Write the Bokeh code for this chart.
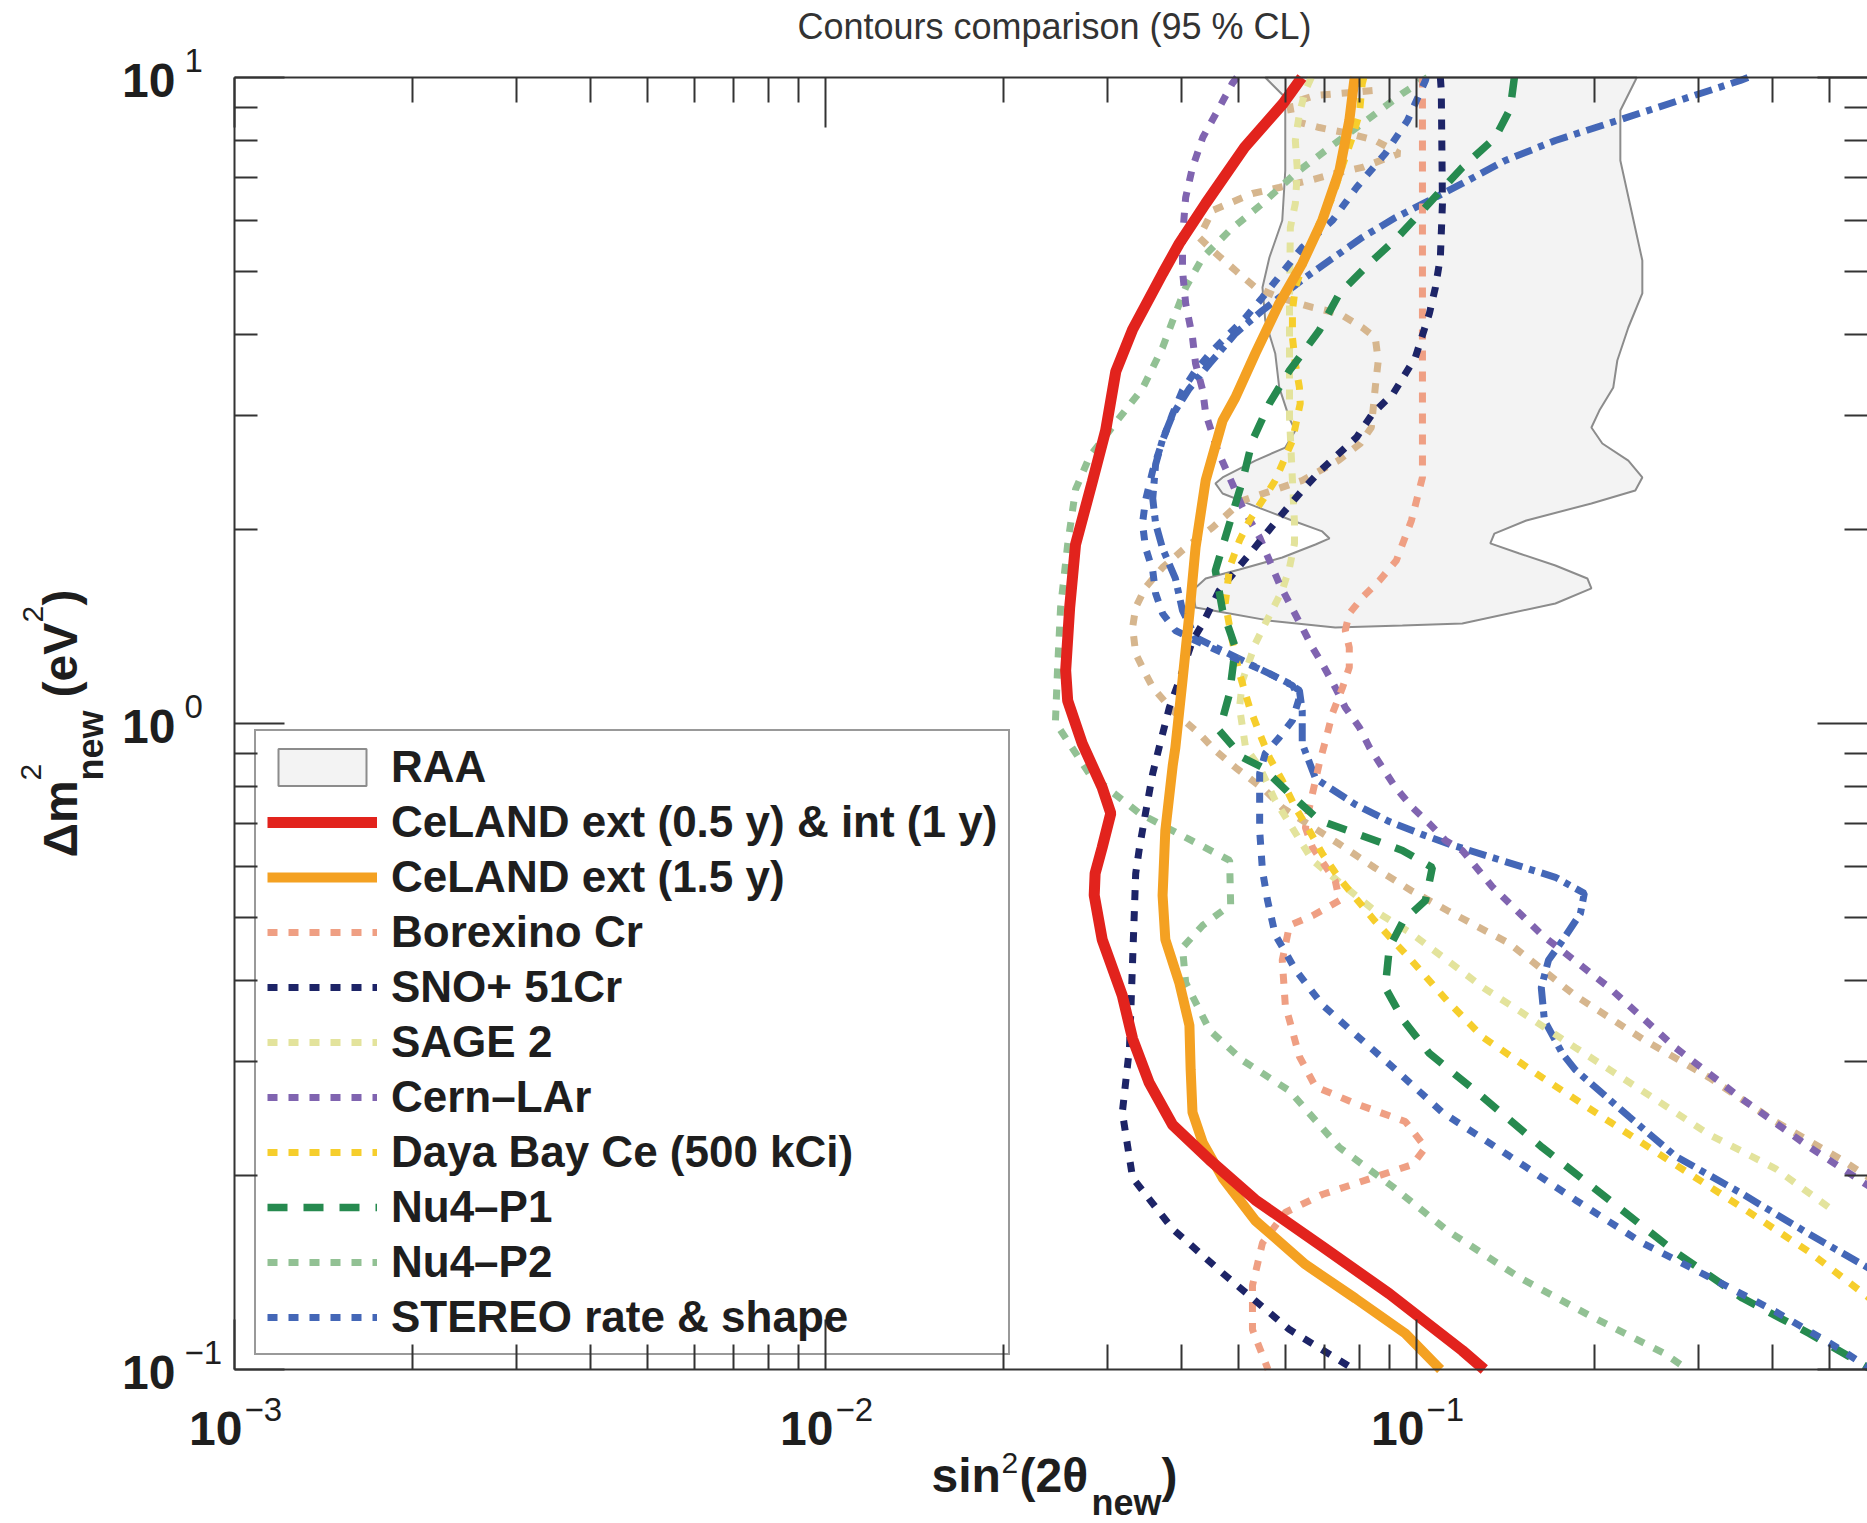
import math
from bokeh.plotting import figure
from bokeh.models import (LogAxis, FixedTicker, Label, Legend, LegendItem, Range1d,
                          CustomJSTickFormatter)
from bokeh.embed import file_html
from bokeh.resources import INLINE

# ---------------- data ----------------
title_text = "Contours comparison (95 % CL)"

x_major = [0.001, 0.01, 0.1]
x_exp = ["\u22123", "\u22122", "\u22121"]
x_minor = [0.002, 0.003, 0.004, 0.005, 0.006, 0.007, 0.008, 0.009,
           0.02, 0.03, 0.04, 0.05, 0.06, 0.07, 0.08, 0.09,
           0.2, 0.3, 0.4, 0.5]
y_major = [0.1, 1, 10]
y_exp = ["\u22121", "0", "1"]
y_minor = [0.2, 0.3, 0.4, 0.5, 0.6, 0.7, 0.8, 0.9, 2, 3, 4, 5, 6, 7, 8, 9]

raa_x = [0.0555, 0.0600, 0.0600, 0.0593, 0.0564, 0.0549, 0.0555, 0.0577, 0.0586, 0.0610, 0.0624,
         0.0600, 0.0534, 0.0470, 0.0457, 0.0470, 0.0534, 0.0610, 0.0693, 0.0713, 0.0675, 0.0593,
         0.0502, 0.0440, 0.0418, 0.0423, 0.0483, 0.0564, 0.0729, 0.0947, 0.1196, 0.1719, 0.1978,
         0.1947, 0.1719, 0.1494, 0.1334, 0.1355, 0.1535, 0.1978, 0.2347, 0.2412, 0.2284, 0.2064,
         0.1978, 0.2040, 0.2154, 0.2188, 0.2284, 0.2412, 0.2412, 0.2311, 0.2214, 0.2214, 0.2347, 0.2360]
raa_y = [10.0, 9.313, 7.179, 6.007, 5.265, 4.731, 4.206, 3.740, 3.313, 2.965, 2.842,
         2.674, 2.553, 2.404, 2.353, 2.270, 2.168, 2.069, 1.983, 1.934, 1.893, 1.807,
         1.731, 1.677, 1.607, 1.512, 1.480, 1.443, 1.408, 1.418, 1.428, 1.534, 1.619,
         1.677, 1.756, 1.833, 1.900, 1.968, 2.062, 2.191, 2.295, 2.404, 2.553, 2.713,
         2.872, 3.051, 3.313, 3.647, 4.102, 4.631, 5.209, 6.225, 7.440, 8.890, 9.894, 10.0]

celand_a_x = [0.0640, 0.0595, 0.0512, 0.0440, 0.0397, 0.0372, 0.0331, 0.0310, 0.0298, 0.0283,
              0.0265, 0.0259, 0.0255, 0.0257, 0.0272, 0.0294, 0.0304, 0.0294, 0.0286, 0.0285, 0.0294,
              0.0318, 0.0331, 0.0353, 0.0387, 0.0447, 0.0534, 0.0693, 0.0900, 0.1196, 0.1303]
celand_a_y = [10.0, 9.115, 7.794, 6.382, 5.534, 4.973, 4.073, 3.506, 2.842, 2.370,
              1.893, 1.512, 1.208, 1.085, 0.931, 0.796, 0.726, 0.643, 0.586, 0.542, 0.463,
              0.379, 0.325, 0.278, 0.239, 0.211, 0.183, 0.155, 0.131, 0.107, 0.100]

celand_b_x = [0.0787, 0.0785, 0.0770, 0.0741, 0.0693, 0.0641, 0.0586, 0.0534, 0.0494, 0.0470, 0.0440,
              0.0423, 0.0413, 0.0402, 0.0391, 0.0387, 0.0376, 0.0372, 0.0376, 0.0397, 0.0413, 0.0415,
              0.0418, 0.0435, 0.0470, 0.0534, 0.0649, 0.0789, 0.0958, 0.1094, 0.1099]
celand_b_y = [10.0, 9.894, 8.578, 7.179, 6.007, 5.154, 4.469, 3.740, 3.196, 2.944, 2.378,
              1.873, 1.480, 1.166, 0.918, 0.861, 0.683, 0.542, 0.463, 0.397, 0.341, 0.291,
              0.250, 0.2245, 0.198, 0.170, 0.1454, 0.1288, 0.1137, 0.1004, 0.100]

borexino_x = [0.1024, 0.1024, 0.1024, 0.0981, 0.0925, 0.0866, 0.0810, 0.0770, 0.0758, 0.0770, 0.0770,
              0.0750, 0.0721, 0.0702, 0.0685, 0.0659, 0.0649, 0.0667, 0.0729, 0.0741, 0.0667, 0.0610,
              0.0593, 0.0600, 0.0634, 0.0675, 0.0789, 0.0958, 0.1036, 0.0985, 0.0843, 0.0693, 0.0600,
              0.0549, 0.0528, 0.0528, 0.0561]
borexino_y = [10.0, 2.976, 2.404, 2.062, 1.788, 1.665, 1.567, 1.480, 1.393, 1.311, 1.221,
              1.137, 1.036, 0.941, 0.867, 0.741, 0.690, 0.643, 0.571, 0.532, 0.504, 0.487,
              0.430, 0.367, 0.305, 0.274, 0.258, 0.242, 0.2206, 0.2076, 0.198, 0.1866, 0.175,
              0.157, 0.1349, 0.1153, 0.100]

sno_x = [0.1098, 0.1102, 0.1107, 0.1098, 0.1077, 0.1052, 0.0996, 0.0914, 0.0843, 0.0792, 0.0688,
         0.0641, 0.0586, 0.0528, 0.0464, 0.0435, 0.0418, 0.0397, 0.0382, 0.0367, 0.0358, 0.0348,
         0.0340, 0.0335, 0.0331, 0.0327, 0.0318, 0.0331, 0.0387, 0.0470, 0.0610, 0.0779, 0.0784]
sno_y = [10.0, 9.546, 6.382, 5.265, 4.731, 4.312, 3.687, 3.243, 3.018, 2.772, 2.464,
         2.295, 2.084, 1.853, 1.607, 1.428, 1.344, 1.166, 1.059, 0.918, 0.837, 0.726,
         0.643, 0.586, 0.430, 0.315, 0.250, 0.198, 0.165, 0.141, 0.1153, 0.1004, 0.100]

sage_x = [0.0664, 0.0649, 0.0634, 0.0624, 0.0629, 0.0624, 0.0612, 0.0610, 0.0610, 0.0617, 0.0622,
          0.0622, 0.0610, 0.0593, 0.0555, 0.0534, 0.0508, 0.0502, 0.0514, 0.0543, 0.0577, 0.0667,
          0.0849, 0.0981, 0.1128, 0.1298, 0.1494, 0.1858, 0.2412, 0.3131, 0.4050, 0.4998]
sage_y = [10.0, 9.546, 8.796, 7.988, 7.179, 6.382, 5.859, 4.517, 2.976, 2.378, 2.040,
          1.900, 1.744, 1.607, 1.428, 1.330, 1.166, 1.059, 0.918, 0.855, 0.760, 0.614,
          0.5135, 0.473, 0.430, 0.390, 0.359, 0.315, 0.270, 0.231, 0.2047, 0.178]

cern_x = [0.0497, 0.0488, 0.0464, 0.0435, 0.0418, 0.0407, 0.0402, 0.0402, 0.0407, 0.0418, 0.0423,
          0.0435, 0.0440, 0.0461, 0.0488, 0.0508, 0.0543, 0.0564, 0.0586, 0.0610, 0.0641, 0.0667,
          0.0693, 0.0729, 0.0758, 0.0801, 0.0833, 0.0876, 0.0922, 0.0985, 0.1052, 0.1120, 0.1196,
          0.1344, 0.1634, 0.2121, 0.2743, 0.3562, 0.4624, 0.5843, 0.639]
cern_y = [10.0, 9.788, 8.986, 8.074, 7.257, 6.521, 5.654, 5.027, 4.469, 3.958, 3.608,
          3.278, 3.018, 2.646, 2.353, 2.160, 1.941, 1.788, 1.648, 1.534, 1.408, 1.311,
          1.238, 1.137, 1.059, 0.986, 0.918, 0.855, 0.796, 0.741, 0.700, 0.659, 0.636,
          0.559, 0.470, 0.390, 0.315, 0.262, 0.221, 0.192, 0.1826]

dayabay_x = [0.0815, 0.0810, 0.0801, 0.0779, 0.0750, 0.0721, 0.0685, 0.0649, 0.0624, 0.0617, 0.0617,
             0.0624, 0.0634, 0.0636, 0.0617, 0.0577, 0.0522, 0.0502, 0.0483, 0.0475, 0.0488, 0.0502,
             0.0522, 0.0543, 0.0564, 0.0593, 0.0624, 0.0659, 0.0693, 0.0738, 0.0849, 0.0981, 0.1128,
             0.1298, 0.1634, 0.2121, 0.2743, 0.3562, 0.4624, 0.5843, 0.639]
dayabay_y = [10.0, 9.788, 8.796, 8.074, 7.309, 6.521, 5.943, 5.265, 4.731, 4.359, 3.958,
             3.608, 3.313, 3.129, 2.742, 2.378, 2.062, 1.920, 1.744, 1.534, 1.344, 1.195,
             1.059, 0.965, 0.886, 0.816, 0.741, 0.683, 0.629, 0.578, 0.4955, 0.430, 0.372,
             0.3265, 0.283, 0.242, 0.2076, 0.178, 0.152, 0.129, 0.122]

nu4p1_x = [0.1465, 0.1442, 0.1360, 0.1196, 0.0929, 0.0833, 0.0741, 0.0685, 0.0610, 0.0564,
           0.0528, 0.0508, 0.0475, 0.0457, 0.0470, 0.0494, 0.0483, 0.0464, 0.0508, 0.0549, 0.0610,
           0.0685, 0.0789, 0.0947, 0.1064, 0.1036, 0.0951, 0.0900, 0.0886, 0.0951, 0.1052, 0.1258,
           0.1634, 0.2121, 0.2743, 0.3562, 0.4624, 0.5843]
nu4p1_y = [10.0, 8.954, 8.074, 7.257, 5.654, 5.154, 4.631, 4.058, 3.519, 3.129,
           2.742, 2.378, 1.941, 1.725, 1.496, 1.311, 1.113, 0.975, 0.886, 0.855, 0.779,
           0.708, 0.676, 0.636, 0.5985, 0.532, 0.4955, 0.450, 0.390, 0.347, 0.3085, 0.270,
           0.2206, 0.183, 0.152, 0.129, 0.1137, 0.1004]

nu4p2_x = [0.1044, 0.0947, 0.0810, 0.0713, 0.0624, 0.0549, 0.0483, 0.0435, 0.0407, 0.0387,
           0.0372, 0.0344, 0.0310, 0.0280, 0.0265, 0.0257, 0.0250, 0.0247, 0.0245, 0.0280, 0.0340,
           0.0413, 0.0483, 0.0485, 0.0435, 0.0402, 0.0407, 0.0447, 0.0508, 0.0610, 0.0741, 0.0911,
           0.1128, 0.1494, 0.1978, 0.2628, 0.288]
nu4p2_y = [10.0, 9.446, 8.487, 7.794, 7.103, 6.382, 5.796, 5.265, 4.731, 4.206,
           3.820, 3.301, 2.924, 2.590, 2.303, 1.893, 1.512, 1.208, 1.004, 0.834, 0.726,
           0.6615, 0.614, 0.524, 0.487, 0.450, 0.397, 0.335, 0.301, 0.270, 0.2206, 0.192,
           0.1641, 0.1388, 0.1208, 0.1059, 0.100]

stereo_x = [0.1039, 0.1036, 0.0966, 0.0886, 0.0792, 0.0721, 0.0641, 0.0549, 0.0514, 0.0483, 0.0452,
            0.0423, 0.0402, 0.0387, 0.0372, 0.0358, 0.0348, 0.0344, 0.0348, 0.0358, 0.0362, 0.0372,
            0.0391, 0.0423, 0.0464, 0.0508, 0.0564, 0.0617, 0.0634, 0.0617, 0.0586, 0.0555, 0.0543,
            0.0543, 0.0543, 0.0549, 0.0560, 0.0577, 0.0624, 0.0693, 0.0789, 0.0900, 0.1107, 0.1437,
            0.1858, 0.2412, 0.3131, 0.4050, 0.5258, 0.5843]
stereo_y = [10.0, 9.894, 8.578, 7.628, 6.757, 6.007, 5.456, 4.566, 4.251, 4.015, 3.780,
            3.519, 3.278, 3.018, 2.742, 2.464, 2.214, 2.040, 1.873, 1.725, 1.590, 1.480,
            1.393, 1.344, 1.293, 1.247, 1.195, 1.145, 1.097, 1.011, 0.951, 0.899, 0.837,
            0.760, 0.683, 0.592, 0.532, 0.471, 0.416, 0.367, 0.330, 0.297, 0.250, 0.214,
            0.183, 0.157, 0.139, 0.123, 0.107, 0.1004]

stereo_dd_x = [0.364, 0.3534, 0.3024, 0.2188, 0.1719, 0.1414, 0.1196, 0.1052, 0.0922, 0.0810, 0.0713,
               0.0649, 0.0549, 0.0494, 0.0447, 0.0413, 0.0387, 0.0372, 0.0362, 0.0358, 0.0362, 0.0372,
               0.0391, 0.0402, 0.0423, 0.0508, 0.0610, 0.0634, 0.0641, 0.0641, 0.0675, 0.0789, 0.0900,
               0.1024, 0.1128, 0.1392, 0.1719, 0.1924, 0.1895, 0.1766, 0.1673, 0.1627, 0.1647, 0.1766,
               0.1858, 0.2293, 0.2743, 0.3562, 0.4624, 0.5843, 0.639]
stereo_dd_y = [10.0, 9.894, 9.446, 8.578, 7.988, 7.440, 6.854, 6.451, 6.071, 5.654, 5.209,
               4.903, 4.359, 4.015, 3.608, 3.301, 3.008, 2.752, 2.517, 2.230, 2.040, 1.866,
               1.677, 1.496, 1.359, 1.252, 1.153, 1.125, 1.047, 0.931, 0.822, 0.749, 0.705,
               0.673, 0.652, 0.614, 0.578, 0.546, 0.508, 0.461, 0.430, 0.390, 0.347, 0.3085,
               0.291, 0.246, 0.214, 0.187, 0.162, 0.1433, 0.137]

tan_x = [0.0843, 0.0741, 0.0675, 0.0610, 0.0617, 0.0685, 0.0770, 0.0852, 0.0936, 0.0810, 0.0729,
         0.0659, 0.0586, 0.0528, 0.0452, 0.0429, 0.0452, 0.0494, 0.0534, 0.0586, 0.0667, 0.0741,
         0.0810, 0.0852, 0.0862, 0.0852, 0.0839, 0.0804, 0.0738, 0.0641, 0.0571, 0.0508, 0.0452,
         0.0407, 0.0372, 0.0348, 0.0335, 0.0331, 0.0335, 0.0348, 0.0358, 0.0387, 0.0429, 0.0457,
         0.0494, 0.0528, 0.0555, 0.0593, 0.0641, 0.0738, 0.0849, 0.0981, 0.1128, 0.1437, 0.1858,
         0.2412, 0.3131, 0.4050, 0.5258, 0.5843, 0.639]
tan_y = [9.546, 9.446, 9.379, 9.115, 8.578, 8.366, 8.190, 7.988, 7.628, 7.257, 7.103,
         6.928, 6.757, 6.614, 6.225, 5.654, 5.398, 5.027, 4.731, 4.566, 4.406, 4.312,
         4.102, 3.958, 3.647, 3.313, 2.872, 2.713, 2.553, 2.378, 2.295, 2.214, 2.011,
         1.873, 1.744, 1.624, 1.512, 1.408, 1.283, 1.195, 1.137, 1.047, 0.965, 0.908,
         0.855, 0.816, 0.788, 0.741, 0.708, 0.652, 0.5985, 0.551, 0.5135, 0.4565, 0.379,
         0.325, 0.283, 0.242, 0.211, 0.198, 0.1886]

# ---------------- geometry ----------------
FONT = "Liberation Sans"
TXT = "#1e1e1e"
AX = "#333333"

W, H = 1867, 1523
PL, PT, PB = 234, 77, 1369        # data-box left, top, bottom (canvas pixels)
X0, X1 = 0.001, 0.58              # data box spans x from X0 (left) to X1 (canvas edge)
Y0, Y1 = 0.1, 10.0
dec_x = (W - PL) / math.log10(X1 / X0)
dec_y = (PB - PT) / math.log10(Y1 / Y0)
MID = 0.347                       # em-box middle above the baseline (Liberation Sans)

# the frame covers the whole canvas; the axes sit at fixed data locations inside it
p = figure(width=W, height=H, x_axis_type="log", y_axis_type="log",
           x_range=Range1d(X0 / 10 ** (PL / dec_x), X1),
           y_range=Range1d(Y0 / 10 ** ((H - PB) / dec_y), Y1 * 10 ** (PT / dec_y)),
           x_axis_location=None, y_axis_location=None, title=None,
           output_backend="svg", toolbar_location=None, min_border=0)
p.outline_line_color = None
p.grid.visible = False
p.background_fill_color = "white"
p.border_fill_color = "white"

xt = FixedTicker(ticks=x_major, minor_ticks=x_minor)
yt = FixedTicker(ticks=y_major, minor_ticks=y_minor)

def box_axis(side, ticker, loc, bounds, minor_len, line=True):
    ax = LogAxis(ticker=ticker, fixed_location=loc, bounds=bounds,
                 formatter=CustomJSTickFormatter(code="return ''"),
                 major_label_text_font_size="0px", major_label_standoff=0,
                 major_tick_in=50, major_tick_out=0, minor_tick_in=minor_len, minor_tick_out=0,
                 major_tick_line_width=2, minor_tick_line_width=2,
                 major_tick_line_color=AX, minor_tick_line_color=AX,
                 axis_line_width=2, axis_line_color=AX if line else None)
    p.add_layout(ax, side)
    return ax

box_axis("below", xt, Y0, (X0, X1), 25)
box_axis("above", xt, Y1, (X0, X1), 25)
box_axis("left", yt, X0, (Y0, Y1), 23)
box_axis("right", yt, X1, (Y0, Y1), 23, line=False)

DOT = "10 11"
raa = p.patch(raa_x, raa_y, fill_color="#f3f3f3", line_color="#8c8c8c", line_width=2)
r_tan = p.line(tan_x, tan_y, line_color="#d6b68e", line_width=7, line_dash=DOT)
r_dd = p.line(stereo_dd_x, stereo_dd_y, line_color="#4467b7", line_width=7, line_dash="18 7 6 7")
r_nu2 = p.line(nu4p2_x, nu4p2_y, line_color="#92c194", line_width=7, line_dash=DOT)
r_sage = p.line(sage_x, sage_y, line_color="#e3e39c", line_width=7, line_dash=DOT)
r_cern = p.line(cern_x, cern_y, line_color="#8064b0", line_width=7, line_dash=DOT)
r_bor = p.line(borexino_x, borexino_y, line_color="#ef9f83", line_width=7, line_dash=DOT)
r_sno = p.line(sno_x, sno_y, line_color="#1d2467", line_width=7, line_dash=DOT)
r_dyb = p.line(dayabay_x, dayabay_y, line_color="#f6ce2c", line_width=7, line_dash=DOT)
r_nu1 = p.line(nu4p1_x, nu4p1_y, line_color="#268a4f", line_width=7.5, line_dash="20 16")
r_ste = p.line(stereo_x, stereo_y, line_color="#4467b7", line_width=7, line_dash=DOT)
r_cb = p.line(celand_b_x, celand_b_y, line_color="#f4a122", line_width=10)
r_ca = p.line(celand_a_x, celand_a_y, line_color="#e2231d", line_width=11)

legend = Legend(items=[
    LegendItem(label="RAA", renderers=[raa]),
    LegendItem(label="CeLAND ext (0.5 y) & int (1 y)", renderers=[r_ca]),
    LegendItem(label="CeLAND ext (1.5 y)", renderers=[r_cb]),
    LegendItem(label="Borexino Cr", renderers=[r_bor]),
    LegendItem(label="SNO+ 51Cr", renderers=[r_sno]),
    LegendItem(label="SAGE 2", renderers=[r_sage]),
    LegendItem(label="Cern\u2013LAr", renderers=[r_cern]),
    LegendItem(label="Daya Bay Ce (500 kCi)", renderers=[r_dyb]),
    LegendItem(label="Nu4\u2013P1", renderers=[r_nu1]),
    LegendItem(label="Nu4\u2013P2", renderers=[r_nu2]),
    LegendItem(label="STEREO rate & shape", renderers=[r_ste]),
], location=(PL + 20, H - PB + 14))
legend.label_text_font = FONT
legend.label_text_font_style = "bold"
legend.label_text_font_size = "44px"
legend.label_text_color = TXT
legend.glyph_width = 110
legend.glyph_height = 46
legend.label_height = 46
legend.label_standoff = 14
legend.spacing = 5
legend.padding = 11
legend.border_line_color = AX
legend.border_line_width = 2
legend.background_fill_alpha = 0
p.add_layout(legend)

def lab(text, x, y, size, bold=False, xu="screen", yu="screen", align="left",
        angle=0.0, xo=0, yo=0, color=TXT):
    """Place a text whose baseline is at (x, y); anchored by its em-box middle."""
    shift = MID * size
    if angle:
        xo -= shift          # rotated text: its 'up' points to the left
    else:
        yo += shift
    p.add_layout(Label(x=x, y=y, x_units=xu, y_units=yu, text=text, text_font=FONT,
                       text_font_size=f"{size}px",
                       text_font_style="bold" if bold else "normal",
                       text_align=align, text_baseline="middle", angle=angle,
                       x_offset=xo, y_offset=yo, text_color=color))

# screen y is measured up from the canvas bottom
# title (centre at 26 px from the top)
p.add_layout(Label(x=1054, y=H - 26, x_units="screen", y_units="screen", text=title_text,
                   text_font=FONT, text_font_size="36px", text_align="center",
                   text_baseline="middle", text_color="#333333"))

# x tick labels: "10" plus a smaller raised exponent
for v, e in zip(x_major, x_exp):
    lab("10", v, H - 1445, 48, bold=True, xu="data", align="right", xo=8)
    lab(e, v, H - 1420, 33, xu="data", align="left", xo=10)

# y tick labels
for v, e in zip(y_major, y_exp):
    lab("10", 175, v, 48, bold=True, yu="data", align="right", yo=-20)
    lab(e, 184, v, 33, yu="data", align="left", yo=6)

# x title: sin^2(2 theta_new)
lab("sin", 931, H - 1492, 48, bold=True)
lab("2", 1001, H - 1473, 30)
lab("(2\u03b8", 1019, H - 1492, 48, bold=True)
lab("new", 1091, H - 1514, 36, bold=True)
lab(")", 1161, H - 1492, 48, bold=True)

# y title: Delta m^2_new (eV^2), rotated
A = math.pi / 2
lab("\u0394m", 77, H - 857, 48, bold=True, angle=A)
lab("2", 41, H - 780, 30, angle=A)
lab("new", 102, H - 780, 36, bold=True, angle=A)
lab("(eV", 77, H - 697, 48, bold=True, angle=A)
lab("2", 43, H - 622, 30, angle=A)
lab(")", 77, H - 605, 48, bold=True, angle=A)

open("out.html", "w").write(file_html(p, INLINE, title="Contours comparison"))
